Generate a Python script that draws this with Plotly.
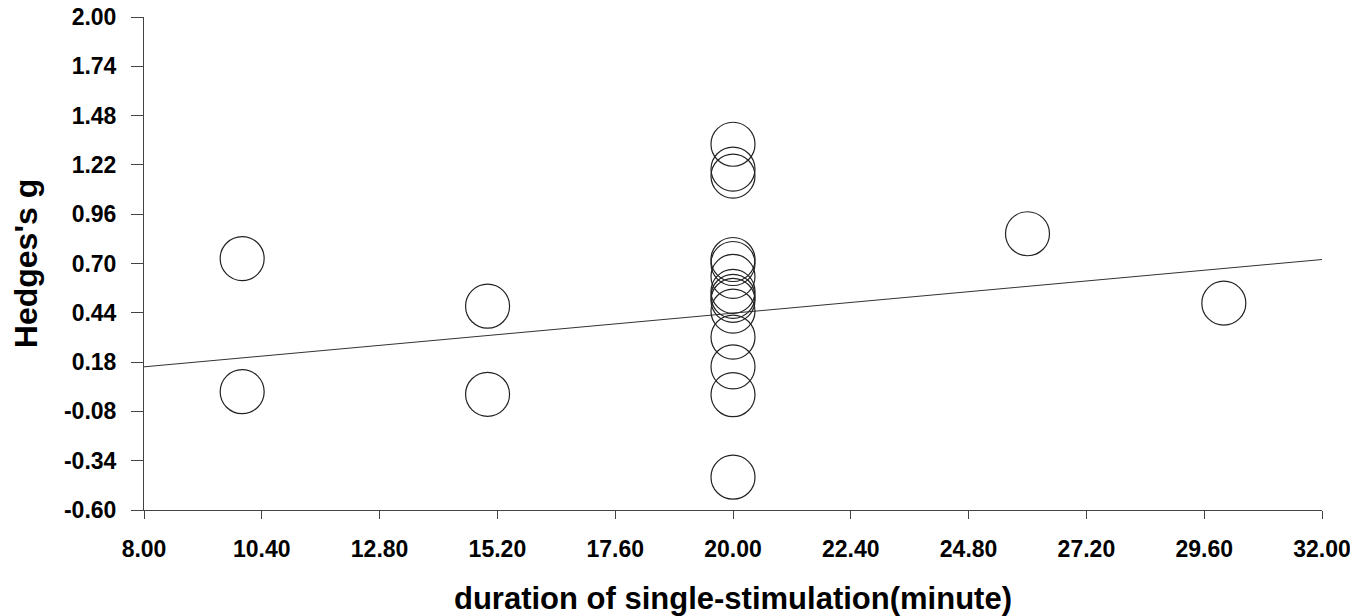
import plotly.graph_objects as go

# Meta-regression: effect size vs. stimulation duration
duration = [10, 10, 15, 15,
            20, 20, 20, 20, 20, 20, 20, 20, 20, 20, 20, 20, 20, 20,
            26, 30]
hedges_g = [0.726, 0.024, 0.475, 0.010,
            1.329, 1.198, 1.161, 0.721, 0.700, 0.632, 0.553, 0.527, 0.506,
            0.449, 0.312, 0.155, 0.008, -0.427,
            0.857, 0.491]

# fitted regression line (endpoints)
fit_x = [8.0, 32.0]
fit_y = [0.155, 0.721]

x_ticks = [8.00, 10.40, 12.80, 15.20, 17.60, 20.00, 22.40, 24.80, 27.20, 29.60, 32.00]
y_ticks = [-0.60, -0.34, -0.08, 0.18, 0.44, 0.70, 0.96, 1.22, 1.48, 1.74, 2.00]

fig = go.Figure()

fig.add_trace(go.Scatter(
    x=fit_x,
    y=fit_y,
    mode="lines",
    line=dict(width=1, color="#333333"),
    hoverinfo="none"
))

fig.add_trace(go.Scatter(
    x=duration,
    y=hedges_g,
    mode="markers",
    marker=dict(size=44, symbol="circle-open", color="#222222",
                line=dict(width=1.2, color="#222222")),
    hoverinfo="x+y"
))

axis_font = dict(family="Liberation Sans, Arial, sans-serif", size=23, color="black", weight="bold")
xtitle_font = dict(family="Liberation Sans, Arial, sans-serif", size=31, color="black", weight="bold")
ytitle_font = dict(family="Liberation Sans, Arial, sans-serif", size=32, color="black", weight="bold")

# page body has an 8px margin, so the figure is 8px smaller than the window
fig.update_layout(
    width=1350,
    height=608,
    showlegend=False,
    plot_bgcolor="white",
    paper_bgcolor="white",
    margin=dict(l=136, r=36, t=9, b=106),
    xaxis=dict(
        range=[8, 32],
        tickvals=x_ticks,
        ticktext=[f"{v:.2f}" for v in x_ticks],
        showgrid=False,
        zeroline=False,
        showline=True,
        linecolor="#444444",
        linewidth=1,
        ticks="outside",
        ticklen=8,
        tickcolor="#444444",
        tickfont=axis_font,
        ticklabelstandoff=10,
        ticklabeloverflow="allow",
        automargin=False,
        title=dict(text="duration of single-stimulation(minute)", font=xtitle_font, standoff=26),
    ),
    yaxis=dict(
        range=[-0.6, 2.0],
        tickvals=y_ticks,
        ticktext=[f"{v:.2f}" for v in y_ticks],
        showgrid=False,
        zeroline=False,
        showline=True,
        linecolor="#444444",
        linewidth=1,
        ticks="outside",
        ticklen=12,
        tickcolor="#444444",
        tickfont=axis_font,
        ticklabelstandoff=10,
        ticklabeloverflow="allow",
        automargin=False,
        title=dict(text="Hedges's g", font=ytitle_font, standoff=20),
    ),
)

fig.write_html("out.html")
